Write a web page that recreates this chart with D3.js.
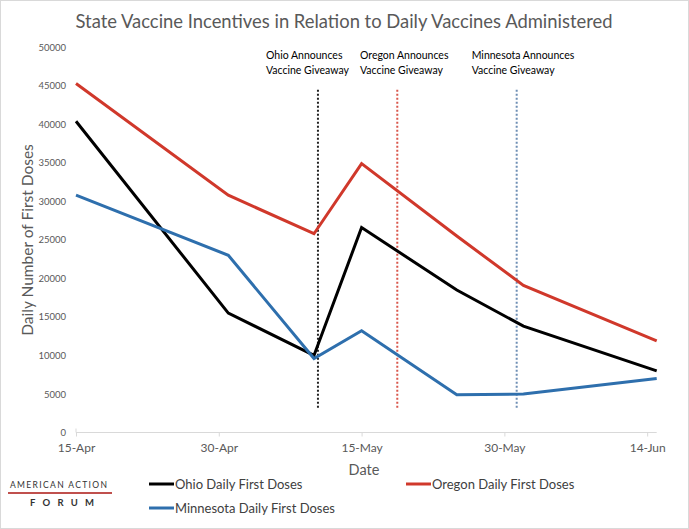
<!DOCTYPE html>
<html><head><meta charset="utf-8">
<script src="https://cdn.jsdelivr.net/npm/d3@7"></script>
<style>
html,body{margin:0;padding:0;background:#fff;}
svg{display:block;font-family:Lato, "Open Sans", sans-serif;}
</style></head>
<body>
<svg id="chart" width="689" height="529"></svg>
<script>
const dates = ["2021-04-15","2021-05-01","2021-05-10","2021-05-15","2021-05-25","2021-06-01","2021-06-15"];
const ohio = [40400, 15500, 10000, 26600, 18500, 13800, 8000];
const oregon = [45300, 30800, 25800, 34900, 25500, 19100, 11900];
const minnesota = [30800, 23000, 9600, 13200, 4900, 5000, 7000];
const tickDates = ["2021-04-15","2021-04-30","2021-05-15","2021-05-30","2021-06-14"];
const yTicks = [0,5000,10000,15000,20000,25000,30000,35000,40000,45000,50000];
const announceDates = ["2021-05-10T10:00","2021-05-18T18:00","2021-05-31T07:00"];
const announceLabels = [["Ohio Announces","Vaccine Giveaway"],["Oregon Announces","Vaccine Giveaway"],["Minnesota Announces","Vaccine Giveaway"]];
const announceRange = [3200, 44500];
const seriesNames = ["Ohio Daily First Doses","Oregon Daily First Doses","Minnesota Daily First Doses"];

const colors = ["#000000", "#d0382b", "#2e6fad"];
const dotColors = ["#222222", "#d9574c", "#6f8fb5"];

const parse = d3.isoParse;
const svg = d3.select("#chart");

// border
svg.append("rect").attr("x",0.5).attr("y",0.5).attr("width",688).attr("height",528)
  .attr("fill","#fff").attr("stroke","#d9d9d9");

const x = d3.scaleTime().domain([parse("2021-04-15"), parse("2021-06-15")]).range([76, 656.7]);
const y = d3.scaleLinear().domain([0,50000]).range([432.5, 47.3]);

// title
svg.append("text").attr("x",344).attr("y",28).attr("text-anchor","middle")
  .attr("font-size",19).attr("fill","#595959")
  .attr("textLength",537).attr("lengthAdjust","spacingAndGlyphs")
  .text("State Vaccine Incentives in Relation to Daily Vaccines Administered");

// y axis labels
const yAxis = d3.axisLeft(y).tickValues(yTicks).tickSize(0).tickPadding(0).tickFormat(d3.format("d"));
const gy = svg.append("g").attr("transform","translate(66,0)").call(yAxis);
gy.select(".domain").remove();
gy.selectAll("text").attr("font-size",9.5).attr("fill","#595959").attr("font-family","Lato, sans-serif");

// x axis
const xAxis = d3.axisBottom(x).tickValues(tickDates.map(parse)).tickSize(4).tickPadding(7)
  .tickFormat(d3.timeFormat("%-d-%b"));
const gx = svg.append("g").attr("transform",`translate(0,${y(0)})`).call(xAxis);
gx.select(".domain").attr("stroke","#d9d9d9").attr("d",`M${x.range()[0]},0H${x.range()[1]}`);
gx.selectAll(".tick line").attr("stroke","#d9d9d9");
gx.selectAll("text").attr("font-size",12).attr("fill","#595959").attr("font-family","Lato, sans-serif");
gx.append("line").attr("x1",x.range()[0]).attr("x2",x.range()[0]).attr("y1",-4).attr("y2",0).attr("stroke","#d9d9d9");

// axis titles
svg.append("text").attr("transform","translate(33,240) rotate(-90)").attr("text-anchor","middle")
  .attr("font-size",15.5).attr("fill","#595959").text("Daily Number of First Doses");
svg.append("text").attr("x",364).attr("y",475).attr("text-anchor","middle")
  .attr("font-size",14.5).attr("fill","#595959").text("Date");

// announcement lines
announceDates.forEach((d,i)=>{
  svg.append("line").attr("x1",x(parse(d))).attr("x2",x(parse(d)))
    .attr("y1",y(announceRange[1])).attr("y2",y(announceRange[0]))
    .attr("stroke",dotColors[i]).attr("stroke-width",2).attr("stroke-dasharray","2,2");
});
const labelX = [266, 360, 471.7];
announceLabels.forEach((lines,i)=>{
  const t = svg.append("text").attr("font-size",10.5).attr("fill","#000");
  lines.forEach((l,j)=>{
    t.append("tspan").attr("x",labelX[i]).attr("y",59+j*14.5).text(l);
  });
});

// series lines
const line = d3.line().x((d,i)=>x(parse(dates[i]))).y(d=>y(d));
[ohio, oregon, minnesota].forEach((s,i)=>{
  svg.append("path").datum(s).attr("d",line).attr("fill","none")
    .attr("stroke",colors[i]).attr("stroke-width",3).attr("stroke-linejoin","miter");
});

// legend
const legendPos = [[149,484],[406,484],[149,508]];
seriesNames.forEach((n,i)=>{
  const [lx,ly] = legendPos[i];
  svg.append("line").attr("x1",lx).attr("x2",lx+25).attr("y1",ly).attr("y2",ly)
    .attr("stroke",colors[i]).attr("stroke-width",3);
  svg.append("text").attr("x",lx+26).attr("y",ly+5).attr("font-size",13).attr("fill","#404040").text(n);
});

// logo
svg.append("text").attr("x",10).attr("y",488)
  .attr("font-size",8.5).attr("fill","#333").attr("font-family","Lato, sans-serif")
  .attr("textLength",97).attr("lengthAdjust","spacing")
  .text("AMERICAN ACTION");
svg.append("line").attr("x1",8).attr("x2",112).attr("y1",493).attr("y2",493).attr("stroke","#c0504d").attr("stroke-width",2);
svg.append("text").attr("x",30).attr("y",506)
  .attr("font-size",9.5).attr("font-weight","bold").attr("fill","#333")
  .attr("textLength",64).attr("lengthAdjust","spacing")
  .text("FORUM");
</script>
</body></html>
